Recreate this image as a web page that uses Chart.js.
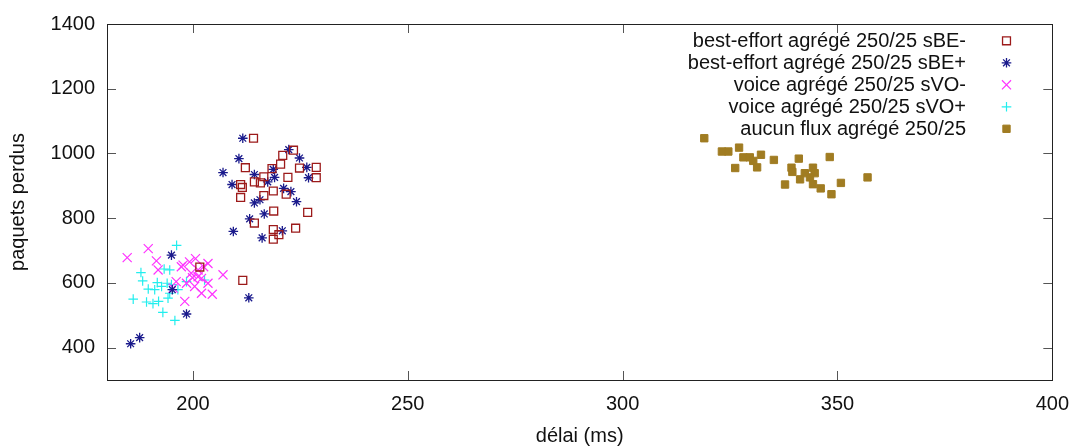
<!DOCTYPE html>
<html>
<head>
<meta charset="utf-8">
<script src="https://cdn.jsdelivr.net/npm/chart.js@4/dist/chart.umd.min.js"></script>
<style>
  html, body { margin: 0; padding: 0; background: #fff; }
  #wrap { width: 1081px; height: 446px; }
</style>
</head>
<body>
<div id="wrap"><canvas id="c" width="1081" height="446"></canvas></div>
<script>
// Values: [délai ms, paquets perdus]
const BE_MINUS = [
  [214.1, 1047], [223.4, 1010], [220.9, 994], [212.2, 956], [220.4, 967],
  [218.4, 953], [224.8, 955], [228.7, 957], [228.7, 925], [222.1, 926],
  [216.5, 928], [214.3, 912], [215.7, 909], [211.1, 904], [211.5, 895],
  [218.7, 884], [221.7, 874], [211.1, 864], [216.5, 870], [218.8, 822],
  [226.7, 818], [214.3, 785], [223.9, 769], [218.7, 765], [220.0, 749],
  [218.7, 735], [201.6, 649], [211.6, 608],
];
const BE_PLUS = [
  [211.6, 1047], [222.3, 1012], [224.8, 986], [210.7, 984], [207.0, 941],
  [226.5, 957], [226.9, 925], [214.3, 935], [218.7, 951], [219.0, 926],
  [217.4, 912], [209.1, 904], [221.1, 892], [222.8, 882], [224.1, 851],
  [215.6, 857], [214.3, 847], [216.6, 813], [213.2, 798], [220.8, 761],
  [209.4, 759], [216.1, 739], [213.0, 554], [195.0, 686], [195.2, 579],
  [198.5, 504], [187.6, 431], [185.5, 412],
];
const VO_MINUS = [
  [184.7, 678], [189.6, 706], [191.5, 668], [191.9, 640], [197.3, 650],
  [196.1, 604], [195.4, 584], [199.2, 665], [197.7, 655], [203.5, 660],
  [207.0, 625], [201.2, 640], [199.6, 630], [202.0, 614], [198.5, 599],
  [203.5, 599], [200.4, 589], [202.0, 568], [198.1, 543], [204.5, 565],
  [201.2, 619], [199.9, 616], [202.5, 650], [200.6, 675],
];
const VO_PLUS = [
  [196.2, 716], [187.9, 632], [193.3, 643], [188.3, 606], [189.6, 581],
  [191.1, 579], [191.7, 601], [192.7, 589], [194.0, 599], [186.1, 550],
  [189.2, 541], [190.7, 536], [192.0, 543], [194.2, 553], [194.6, 568],
  [193.0, 509], [195.8, 484], [194.6, 640], [202.7, 609], [198.5, 604],
  [196.5, 579], [195.0, 595],
];
const AUCUN = [
  [319.0, 1047], [323.1, 1006], [324.6, 1006], [327.1, 1018], [328.1, 988],
  [329.6, 988], [326.2, 955], [332.2, 996], [330.4, 977], [331.3, 957],
  [335.2, 980], [341.0, 984], [348.2, 989], [339.3, 956], [339.5, 943],
  [342.4, 939], [344.3, 956], [344.7, 939], [341.3, 920], [343.6, 926],
  [337.8, 904], [344.3, 905], [346.1, 892], [348.6, 874], [350.8, 909],
  [357.0, 926],
];
const LABELS = [
  "best-effort agrégé 250/25 sBE-",
  "best-effort agrégé 250/25 sBE+",
  "voice agrégé 250/25 sVO-",
  "voice agrégé 250/25 sVO+",
  "aucun flux agrégé 250/25",
];
const X_TICKS = [200, 250, 300, 350, 400];
const Y_TICKS = [400, 600, 800, 1000, 1200, 1400];

const FONT = "'Liberation Sans', Arial, Helvetica, sans-serif";
const FS = 20;
const INK = "#111";

const toPts = arr => arr.map(([x, y]) => ({ x, y }));

// marker looks, one per series (gnuplot-ish point types)
const STYLES = [
  { pointStyle: "rect", radius: 5.6, borderColor: "#9c1a1a", backgroundColor: "rgba(0,0,0,0)", borderWidth: 1.3 },
  { pointStyle: "star", radius: 4.8, borderColor: "#1a1a8c", backgroundColor: "#1a1a8c", borderWidth: 1.3 },
  { pointStyle: "crossRot", radius: 6.4, borderColor: "#ff33ff", backgroundColor: "#ff33ff", borderWidth: 1.2 },
  { pointStyle: "cross", radius: 4.8, borderColor: "#22eeee", backgroundColor: "#22eeee", borderWidth: 1.2 },
  { pointStyle: "rect", radius: 5.2, borderColor: "#a07c22", backgroundColor: "#a07c22", borderWidth: 1 },
];

const SERIES = [BE_MINUS, BE_PLUS, VO_MINUS, VO_PLUS, AUCUN];

// Box border + inward mirrored ticks, like gnuplot.
const frame = {
  id: "frame",
  beforeDatasetsDraw(chart) {
    const { ctx, chartArea: a, scales: { x, y } } = chart;
    ctx.save();
    ctx.strokeStyle = "#555";
    ctx.lineWidth = 1;
    const TL = 9;
    ctx.beginPath();
    X_TICKS.forEach(v => {
      const px = Math.round(x.getPixelForValue(v)) + 0.5;
      ctx.moveTo(px, a.bottom); ctx.lineTo(px, a.bottom - TL);
      ctx.moveTo(px, a.top); ctx.lineTo(px, a.top + TL);
    });
    Y_TICKS.forEach(v => {
      const py = Math.round(y.getPixelForValue(v)) + 0.5;
      ctx.moveTo(a.left, py); ctx.lineTo(a.left + TL, py);
      ctx.moveTo(a.right, py); ctx.lineTo(a.right - TL, py);
    });
    ctx.stroke();
    ctx.strokeStyle = "#222";
    ctx.strokeRect(Math.round(a.left) + 0.5, Math.round(a.top) + 0.5,
      Math.round(a.right - a.left), Math.round(a.bottom - a.top));
    ctx.restore();
  },
  // legend: right-aligned text, marker on the right
  afterDraw(chart) {
    const { ctx } = chart;
    ctx.save();
    ctx.font = FS + "px " + FONT;
    ctx.textAlign = "right";
    ctx.textBaseline = "middle";
    LABELS.forEach((label, i) => {
      const yy = 41.3 + i * 22;
      ctx.fillStyle = INK;
      ctx.fillText(label, 966, yy);
      const st = STYLES[i];
      ctx.strokeStyle = st.borderColor;
      ctx.fillStyle = st.backgroundColor;
      ctx.lineWidth = st.borderWidth;
      Chart.helpers.drawPoint(ctx, { pointStyle: st.pointStyle, radius: st.radius, rotation: 0, borderWidth: st.borderWidth }, 1006.5, yy - 0.5);
    });
    ctx.restore();
  },
};

new Chart(document.getElementById("c"), {
  type: "scatter",
  data: {
    datasets: SERIES.map((arr, i) => ({
      label: LABELS[i],
      data: toPts(arr),
      pointStyle: STYLES[i].pointStyle,
      pointRadius: STYLES[i].radius,
      pointBorderColor: STYLES[i].borderColor,
      pointBackgroundColor: STYLES[i].backgroundColor,
      pointBorderWidth: STYLES[i].borderWidth,
      showLine: false,
    })),
  },
  options: {
    responsive: false,
    animation: false,
    events: [],
    layout: { padding: { top: 20, right: 25, left: 0, bottom: 0 } },
    plugins: { legend: { display: false }, tooltip: { enabled: false } },
    scales: {
      x: {
        type: "linear", min: 180, max: 400,
        afterBuildTicks: s => { s.ticks = X_TICKS.map(v => ({ value: v })); },
        afterFit: s => { s.height = 66; },
        grid: { display: false, drawTicks: false },
        border: { display: false },
        ticks: { padding: 12, color: INK, font: { family: FONT, size: FS }, callback: v => String(v) },
        title: { display: true, text: "délai (ms)", color: INK,
          font: { family: FONT, size: FS, lineHeight: 1 }, padding: { top: 0, bottom: 0 } },
      },
      y: {
        type: "linear", min: 300, max: 1400,
        afterBuildTicks: s => { s.ticks = Y_TICKS.map(v => ({ value: v })); },
        afterFit: s => { s.width = 107; },
        grid: { display: false, drawTicks: false },
        border: { display: false },
        ticks: { padding: 12, color: INK, font: { family: FONT, size: FS }, callback: v => String(v) },
        title: { display: true, text: "paquets perdus", color: INK,
          font: { family: FONT, size: FS, lineHeight: 1 }, padding: { top: 8, bottom: 0 } },
      },
    },
  },
  plugins: [frame],
});
</script>
</body>
</html>
